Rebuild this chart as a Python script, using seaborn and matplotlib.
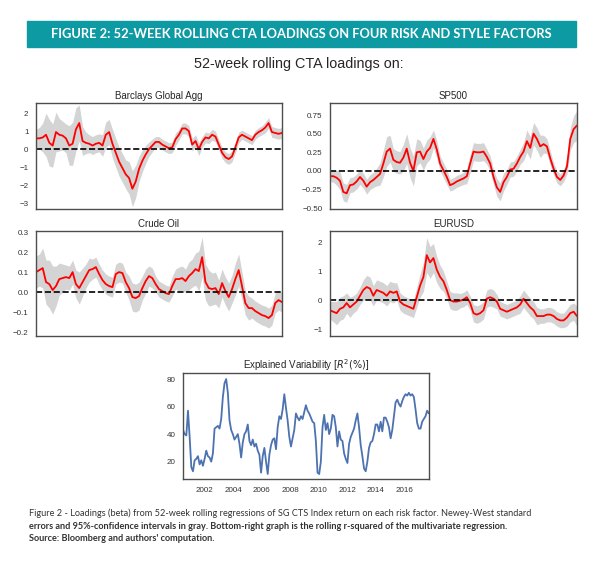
import numpy as np
import pandas as pd
import matplotlib
matplotlib.use("Agg")
import matplotlib.pyplot as plt
from matplotlib.patches import Rectangle
import seaborn as sns

sns.set_style("white")
plt.rcParams["font.family"] = ["Liberation Sans", "DejaVu Sans"]
plt.rcParams["axes.edgecolor"] = ".3"
plt.rcParams["axes.linewidth"] = 1.0

barclays = [0.6, 0.6, 0.65, 0.8, 0.35, 0.2, 0.95, 0.8, 0.75, 0.6,
            0.2, 0.3, 1.1, 1.45, 0.45, 0.35, 0.3, 0.2, 0.3, 0.35,
            0.2, 0.8, 0.95, 0.3, -0.2, -0.7, -1.05, -1.4, -1.6, -2.2,
            -1.8, -1.1, -0.65, -0.3, 0.0, 0.2, 0.4, 0.4, 0.25, 0.15,
            0.05, 0.1, 0.55, 0.8, 1.15, 1.15, 1.0, 0.25, 0.45, 0.0,
            0.4, 0.65, 0.6, 0.8, 0.7, 0.25, -0.2, -0.45, -0.55, -0.4,
            0.1, 0.65, 0.8, 0.7, 0.6, 0.5, 0.8, 0.95, 1.05, 1.2,
            1.45, 0.95, 0.9, 0.85, 0.9]
barclays_ci = [0.5, 0.6, 0.8, 1.2, 1.3, 1.2, 1.1, 0.9, 0.8, 0.8,
               1.1, 1.2, 1.2, 1.0, 0.8, 0.6, 0.5, 0.5, 0.5, 0.5,
               0.6, 0.7, 0.7, 0.8, 0.8, 0.8, 0.8, 0.8, 0.9, 1.0,
               0.9, 0.7, 0.6, 0.5, 0.4, 0.35, 0.3, 0.3, 0.3, 0.3,
               0.3, 0.3, 0.35, 0.3, 0.3, 0.3, 0.3, 0.35, 0.35, 0.35,
               0.3, 0.3, 0.3, 0.3, 0.3, 0.3, 0.3, 0.3, 0.3, 0.3,
               0.3, 0.3, 0.25, 0.25, 0.25, 0.25, 0.25, 0.25, 0.25, 0.3,
               0.3, 0.3, 0.3, 0.3, 0.3]

sp500 = [-0.07, -0.07, -0.09, -0.13, -0.28, -0.30, -0.19, -0.18, -0.14, -0.08,
         -0.13, -0.21, -0.15, -0.12, -0.08, -0.04, 0.10, 0.26, 0.30, 0.15,
         0.12, 0.11, 0.18, 0.30, 0.11, 0.0, 0.25, 0.26, 0.16, 0.26,
         0.31, 0.43, 0.29, 0.10, 0.01, -0.08, -0.19, -0.17, -0.14, -0.12,
         -0.10, -0.07, 0.10, 0.26, 0.25, 0.25, 0.26, 0.19, 0.10, -0.08,
         -0.22, -0.28, -0.15, -0.08, 0.02, 0.03, 0.10, 0.19, 0.26, 0.40,
         0.31, 0.50, 0.43, 0.33, 0.36, 0.33, 0.17, 0.03, -0.08, -0.12,
         -0.06, 0.06, 0.43, 0.56, 0.61]
sp500_ci = [0.07, 0.08, 0.1, 0.12, 0.12, 0.12, 0.1, 0.1, 0.1, 0.1,
            0.1, 0.1, 0.1, 0.1, 0.12, 0.15, 0.18, 0.2, 0.18, 0.15,
            0.15, 0.15, 0.18, 0.2, 0.2, 0.2, 0.18, 0.15, 0.15, 0.15,
            0.15, 0.12, 0.12, 0.1, 0.1, 0.1, 0.08, 0.08, 0.08, 0.08,
            0.08, 0.1, 0.12, 0.12, 0.12, 0.12, 0.12, 0.1, 0.1, 0.1,
            0.12, 0.12, 0.12, 0.1, 0.1, 0.1, 0.1, 0.1, 0.12, 0.15,
            0.15, 0.15, 0.15, 0.15, 0.12, 0.1, 0.1, 0.08, 0.08, 0.08,
            0.08, 0.1, 0.15, 0.18, 0.2]

crude = [0.10, 0.11, 0.12, 0.05, 0.04, 0.01, 0.03, 0.065, 0.07, 0.075,
         0.07, 0.10, 0.04, 0.02, 0.05, 0.08, 0.11, 0.115, 0.125, 0.09,
         0.06, 0.04, 0.03, 0.025, 0.09, 0.10, 0.095, 0.05, 0.02, -0.025,
         -0.03, -0.02, 0.02, 0.055, 0.08, 0.07, 0.04, 0.015, 0.005, -0.005,
         -0.01, 0.03, 0.065, 0.065, 0.07, 0.055, 0.08, 0.095, 0.115, 0.105,
         0.175, 0.05, 0.02, 0.015, 0.02, -0.01, 0.045, 0.005, -0.025, 0.015,
         0.065, 0.11, 0.03, -0.055, -0.08, -0.08, -0.095, -0.105, -0.115, -0.12,
         -0.13, -0.115, -0.055, -0.04, -0.05]
crude_ci = [0.08, 0.08, 0.1, 0.11, 0.12, 0.12, 0.1, 0.08, 0.07, 0.06,
            0.06, 0.06, 0.07, 0.08, 0.07, 0.06, 0.06, 0.05, 0.05, 0.05,
            0.05, 0.05, 0.05, 0.05, 0.05, 0.05, 0.05, 0.05, 0.06, 0.07,
            0.07, 0.07, 0.06, 0.06, 0.05, 0.05, 0.04, 0.04, 0.04, 0.04,
            0.04, 0.05, 0.05, 0.06, 0.06, 0.06, 0.07, 0.07, 0.08, 0.1,
            0.1, 0.09, 0.09, 0.08, 0.08, 0.07, 0.07, 0.07, 0.07, 0.07,
            0.08, 0.08, 0.07, 0.06, 0.06, 0.05, 0.05, 0.05, 0.05, 0.05,
            0.05, 0.05, 0.05, 0.05, 0.05]

eurusd = [-0.35, -0.4, -0.45, -0.3, -0.25, -0.1, -0.25, -0.15, -0.05, 0.15,
          0.35, 0.45, 0.4, 0.15, 0.35, 0.3, 0.25, 0.15, 0.3, 0.25,
          0.3, -0.05, -0.15, -0.2, -0.25, -0.3, 0.1, 0.5, 0.8, 1.55,
          1.3, 1.45, 1.05, 0.8, 0.65, 0.35, 0.0, -0.05, -0.05, -0.02,
          0.02, 0.1, -0.1, -0.45, -0.5, -0.45, -0.35, 0.05, 0.1, 0.05,
          -0.05, -0.3, -0.35, -0.4, -0.35, -0.3, -0.25, -0.15, 0.05, -0.1,
          -0.25, -0.35, -0.55, -0.55, -0.55, -0.5, -0.5, -0.55, -0.65, -0.7,
          -0.7, -0.6, -0.45, -0.4, -0.55]
eurusd_ci = [0.3, 0.35, 0.4, 0.4, 0.4, 0.35, 0.35, 0.3, 0.3, 0.3,
             0.35, 0.4, 0.4, 0.35, 0.35, 0.35, 0.35, 0.35, 0.35, 0.35,
             0.3, 0.3, 0.3, 0.3, 0.3, 0.3, 0.35, 0.4, 0.5, 0.6,
             0.55, 0.5, 0.45, 0.4, 0.35, 0.3, 0.3, 0.3, 0.3, 0.25,
             0.25, 0.25, 0.25, 0.3, 0.3, 0.3, 0.3, 0.3, 0.3, 0.3,
             0.25, 0.25, 0.25, 0.25, 0.25, 0.25, 0.25, 0.3, 0.3, 0.3,
             0.3, 0.3, 0.3, 0.25, 0.25, 0.25, 0.25, 0.25, 0.25, 0.25,
             0.25, 0.3, 0.3, 0.3, 0.35]

# rolling r-squared of the multivariate regression (%), sampled every ~0.12 years
r2 = [43, 40, 39, 57, 38, 16, 13, 21, 22, 24,
      18, 21, 17, 22, 28, 24, 23, 20, 26, 44,
      45, 46, 44, 51, 67, 77, 80, 70, 50, 43,
      40, 36, 38, 40, 33, 23, 34, 40, 42, 47,
      35, 32, 36, 31, 33, 28, 25, 12, 24, 30,
      20, 11, 25, 32, 36, 37, 29, 45, 53, 51,
      58, 69, 59, 50, 38, 31, 37, 43, 55, 52,
      50, 53, 51, 56, 61, 57, 55, 52, 49, 48,
      35, 12, 11, 20, 45, 54, 43, 48, 40, 44,
      54, 53, 45, 31, 42, 36, 35, 26, 22, 19,
      33, 38, 41, 44, 50, 55, 45, 32, 24, 15,
      13, 20, 30, 34, 35, 40, 47, 47, 42, 49,
      42, 52, 52, 49, 45, 37, 43, 53, 63, 65,
      62, 60, 64, 67, 69, 68, 70, 68, 69, 67,
      58, 48, 44, 44, 49, 51, 53, 57, 55]

start_year, end_year = 2000.5, 2017.7
dates = np.linspace(start_year, end_year, len(barclays))
r2_dates = np.linspace(start_year, end_year, len(r2))

title_text = "FIGURE 2: 52-WEEK ROLLING CTA LOADINGS ON FOUR RISK AND STYLE FACTORS"
caption = ["Figure 2 - Loadings (beta) from 52-week rolling regressions of SG CTS Index return on each risk factor. Newey-West standard",
           "errors and 95%-confidence intervals in gray. Bottom-right graph is the rolling r-squared of the multivariate regression.",
           "Source: Bloomberg and authors' computation."]

fig = plt.figure(figsize=(6.01, 5.62), dpi=100)

# teal banner
fig.patches.append(Rectangle((0.045, 0.917), 0.914, 0.045, transform=fig.transFigure,
                             color="#0e9aa3", zorder=0))
fig.text(0.502, 0.940, title_text, color="white", fontsize=9.3, fontweight="bold",
         family=["Lato", "DejaVu Sans"], ha="center", va="center")
fig.text(0.498, 0.887, "52-week rolling CTA loadings on:", fontsize=10.4,
         color=".15", ha="center", va="center")


def draw_loading(rect, beta, ci, title, ylim, yticks, ylabels):
    ax = fig.add_axes(rect)
    df = pd.DataFrame({"date": dates, "beta": beta, "ci": ci})
    df["lo"] = df["beta"] - df["ci"]
    df["hi"] = df["beta"] + df["ci"]
    ax.fill_between(df["date"], df["lo"], df["hi"], color="#d4d4d4", lw=0)
    sns.lineplot(data=df, x="date", y="beta", color="red", lw=1.3, ax=ax)
    ax.axhline(0, color="black", ls="--", lw=1.2)
    ax.set_xlim(start_year, end_year)
    ax.set_ylim(*ylim)
    ax.set_xticks([])
    ax.set_yticks(yticks)
    ax.set_yticklabels(ylabels)
    ax.tick_params(axis="y", labelsize=5.8, pad=2, colors=".2")
    ax.set_xlabel("")
    ax.set_ylabel("")
    ax.set_title(title, fontsize=7, pad=3, color=".15")
    return ax


draw_loading([0.060, 0.628, 0.409, 0.1886], barclays, barclays_ci, "Barclays Global Agg",
             (-3.33, 2.56), [2, 1, 0, -1, -2, -3], ["2", "1", "0", "\u22121", "\u22122", "\u22123"])
draw_loading([0.549, 0.628, 0.411, 0.1886], sp500, sp500_ci, "SP500",
             (-0.51, 0.91), [0.75, 0.5, 0.25, 0.0, -0.25, -0.5],
             ["0.75", "0.50", "0.25", "0.00", "\u22120.25", "\u22120.50"])
draw_loading([0.060, 0.402, 0.409, 0.1868], crude, crude_ci, "Crude Oil",
             (-0.22, 0.305), [0.3, 0.2, 0.1, 0.0, -0.1, -0.2],
             ["0.3", "0.2", "0.1", "0.0", "\u22120.1", "\u22120.2"])
draw_loading([0.549, 0.402, 0.411, 0.1868], eurusd, eurusd_ci, "EURUSD",
             (-1.24, 2.38), [2, 1, 0, -1], ["2", "1", "0", "\u22121"])

# explained variability
ax = fig.add_axes([0.3045, 0.1477, 0.409, 0.1886])
r2_df = pd.DataFrame({"date": r2_dates, "r2": r2})
sns.lineplot(data=r2_df, x="date", y="r2", color="#4c72b0", lw=1.3, ax=ax)
ax.set_xlim(start_year, end_year)
ax.set_ylim(7.4, 84.4)
ax.set_xticks(range(2002, 2017, 2))
ax.set_yticks([20, 40, 60, 80])
ax.tick_params(labelsize=5.8, pad=2, colors=".2")
ax.set_xlabel("")
ax.set_ylabel("")
ax.set_title(r"Explained Variability [$R^2(\%)$]", fontsize=7, pad=3, color=".15")

# caption
cap_y = [0.087, 0.064, 0.042]
for i, (line, y) in enumerate(zip(caption, cap_y)):
    fig.text(0.048, y, line, fontsize=6.6, color=".2", ha="left", va="center",
             family=["Lato", "DejaVu Sans"], fontweight="normal" if i == 0 else "bold")

fig.savefig("out.png", dpi=100)
